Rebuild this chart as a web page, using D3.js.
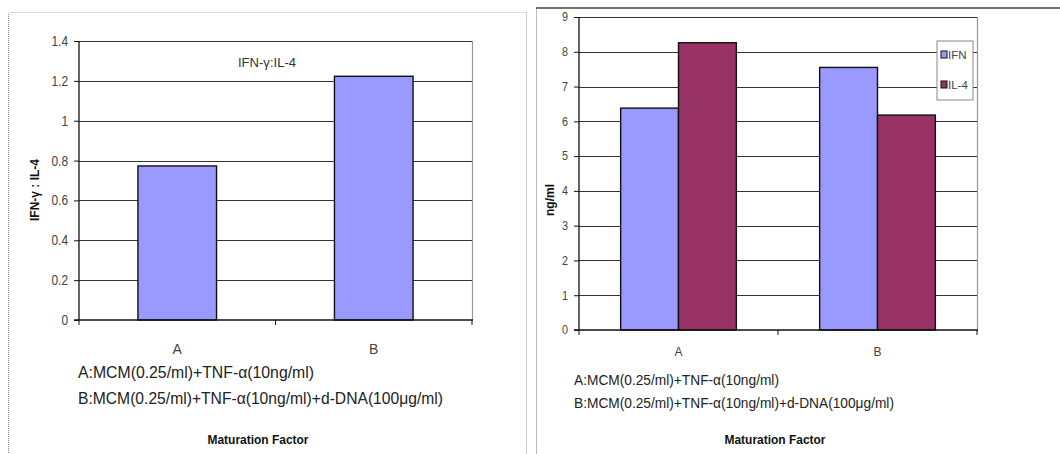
<!DOCTYPE html>
<html><head><meta charset="utf-8">
<script src="https://cdn.jsdelivr.net/npm/d3@7"></script>
<style>
body{margin:0;background:#fff;}
svg{display:block;}
text{font-family:"Liberation Sans",Arial,sans-serif;}
</style></head>
<body>
<svg id="c" width="1060" height="454"></svg>
<script>
// ---- data ----
const categories = ["A", "B"];
const ratioValues = [0.773, 1.223];           // IFN-γ : IL-4
const ratioTicks = [0, 0.2, 0.4, 0.6, 0.8, 1, 1.2, 1.4];
const seriesNames = ["IFN", "IL-4"];
const ifnValues = [6.38, 7.55];
const il4Values = [8.26, 6.18];
const ngTicks = [0, 1, 2, 3, 4, 5, 6, 7, 8, 9];
const noteA = "A:MCM(0.25/ml)+TNF-α(10ng/ml)";
const noteB = "B:MCM(0.25/ml)+TNF-α(10ng/ml)+d-DNA(100μg/ml)";
const colors = ["#9999FF", "#993366"];

const svg = d3.select("#c");

// ---- panel frames ----
svg.append("line").attr("x1",8.5).attr("x2",8.5).attr("y1",12).attr("y2",454)
  .attr("stroke","#888").attr("stroke-dasharray","1,1");
svg.append("line").attr("x1",8).attr("x2",527).attr("y1",12.5).attr("y2",12.5).attr("stroke","#ddd");
svg.append("line").attr("x1",526.5).attr("x2",526.5).attr("y1",12).attr("y2",454).attr("stroke","#ccc");
svg.append("line").attr("x1",536.5).attr("x2",536.5).attr("y1",8).attr("y2",454).attr("stroke","#bbb");
svg.append("line").attr("x1",536).attr("x2",1060).attr("y1",8).attr("y2",8).attr("stroke","#444").attr("stroke-width",1.5);

function drawChart(opt){
  const g = svg.append("g");
  const x = d3.scaleBand().domain(categories).range([opt.x0, opt.x1]);
  const y = d3.scaleLinear().domain([0, opt.ymax]).range([opt.y0, opt.y1]);
  // plot border (top/right gray)
  g.append("path").attr("d",`M${opt.x0},${opt.y1+0.5}H${opt.x1+0.5}V${opt.y0}`)
    .attr("fill","none").attr("stroke","#999").attr("stroke-width",1.2);
  // gridlines
  g.selectAll(".grid").data(opt.ticks.filter(t=>t>0)).join("line")
    .attr("x1",opt.x0).attr("x2",opt.x1).attr("y1",d=>Math.round(y(d))+0.5).attr("y2",d=>Math.round(y(d))+0.5)
    .attr("stroke","#333").attr("stroke-width",1.1);
  // bars
  opt.series.forEach((s,si)=>{
    const inner = d3.scaleBand().domain(d3.range(opt.series.length))
      .range([0, x.bandwidth()]).paddingInner(0).paddingOuter(opt.pad);
    g.selectAll(null).data(s).join("rect")
      .attr("x",(d,i)=>x(categories[i])+inner(si))
      .attr("width",inner.bandwidth())
      .attr("y",d=>y(d)).attr("height",d=>y(0)-y(d))
      .attr("fill",colors[si]).attr("stroke","#111").attr("stroke-width",1.4);
  });
  // y axis
  const ya = g.append("g").attr("transform",`translate(${opt.x0},0)`)
    .call(d3.axisLeft(y).tickValues(opt.ticks).tickSize(5).tickPadding(6).tickFormat(d=>String(d)));
  ya.select(".domain").attr("stroke","#111").attr("stroke-width",1.3).attr("d",`M0,${opt.y0}V${opt.y1}`);
  ya.selectAll(".tick line").attr("stroke","#111");
  ya.selectAll("text").attr("font-size",opt.tickFont).attr("fill","#444")
    .attr("transform",`scale(${opt.sx},1)`).attr("x",-11/opt.sx);
  // x axis
  const xa = g.append("g").attr("transform",`translate(0,${opt.y0})`);
  xa.append("line").attr("x1",opt.x0-5).attr("x2",opt.x1+1).attr("stroke","#111").attr("stroke-width",1.3);
  const bounds = [opt.x0, opt.x0 + x.step(), opt.x1];
  xa.selectAll(null).data(bounds).join("line").attr("x1",d=>d).attr("x2",d=>d).attr("y1",0).attr("y2",5).attr("stroke","#111");
  g.selectAll(null).data(categories).join("text")
    .attr("x",d=>x(d)+x.bandwidth()/2).attr("y",opt.catY).attr("text-anchor","middle")
    .attr("font-size",opt.tickFont).attr("fill","#444").text(d=>d);
  // y title
  g.append("text").attr("transform",`translate(${opt.ytX},${opt.ytY}) rotate(-90)`)
    .attr("text-anchor","middle").attr("font-size",12).attr("font-weight","bold").attr("fill","#111").text(opt.ytitle);
  // notes
  g.append("text").attr("x",opt.noteX).attr("y",opt.noteY1).attr("font-size",opt.noteFont).attr("fill","#222")
    .attr("textLength",opt.noteLenA).attr("lengthAdjust","spacingAndGlyphs").text(noteA);
  g.append("text").attr("x",opt.noteX).attr("y",opt.noteY2).attr("font-size",opt.noteFont).attr("fill","#222")
    .attr("textLength",opt.noteLenB).attr("lengthAdjust","spacingAndGlyphs").text(noteB);
  // x title
  g.append("text").attr("x",opt.xtX).attr("y",444).attr("text-anchor","middle").attr("font-size",12)
    .attr("font-weight","bold").attr("fill","#111").attr("textLength",101).attr("lengthAdjust","spacingAndGlyphs")
    .text("Maturation Factor");
  return {g,x,y};
}

// ---- left chart ----
const L = drawChart({x0:79, x1:472, y0:320, y1:41, ymax:1.4, ticks:ratioTicks, sx:0.85,
  series:[ratioValues], pad:0.75, tickFont:14, catY:354, ytitle:"IFN-γ : IL-4", ytX:39, ytY:190,
  noteX:78, noteY1:378, noteY2:404, noteFont:16, noteLenA:236, noteLenB:365, xtX:258});
L.g.append("text").attr("x",267).attr("y",67).attr("text-anchor","middle").attr("font-size",13)
  .attr("fill","#333").attr("textLength",58).attr("lengthAdjust","spacingAndGlyphs").text("IFN-γ:IL-4");

// ---- right chart ----
const R = drawChart({x0:579, x1:977, y0:330, y1:17, ymax:9, ticks:ngTicks, sx:0.9,
  series:[ifnValues, il4Values], pad:0.72, tickFont:12, catY:356, ytitle:"ng/ml", ytX:554, ytY:200,
  noteX:574, noteY1:385, noteY2:408, noteFont:14, noteLenA:205, noteLenB:320, xtX:775});
// legend
const lg = R.g.append("g");
lg.append("rect").attr("x",937).attr("y",41).attr("width",36).attr("height",59)
  .attr("fill","#fff").attr("stroke","#888");
lg.selectAll(null).data(seriesNames).join("rect")
  .attr("x",941).attr("y",(d,i)=>51+i*30).attr("width",6).attr("height",7)
  .attr("fill",(d,i)=>colors[i]).attr("stroke","#111");
lg.selectAll(null).data(seriesNames).join("text")
  .attr("x",948).attr("y",(d,i)=>59+i*30).attr("font-size",11.5).attr("fill","#444").text(d=>d);
</script>
</body></html>
